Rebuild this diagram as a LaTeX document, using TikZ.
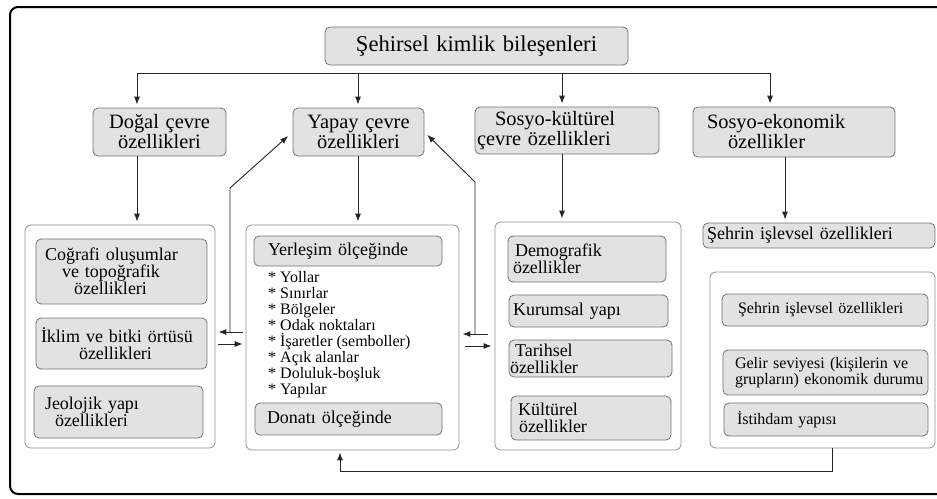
\documentclass[tikz,border=0pt]{standalone}
\usepackage{fontspec}
\setmainfont{Liberation Serif}
\usetikzlibrary{arrows.meta}

\definecolor{boxfill}{RGB}{226,226,226}
\definecolor{boxline}{RGB}{115,115,115}
\definecolor{cntline}{RGB}{145,145,145}
\newcommand{\ind}[1]{\hspace*{#1pt}}

\begin{document}
\begin{tikzpicture}[
    x=1pt, y=-1pt,
    gbox/.style={rectangle, rounded corners=5pt, draw=boxline, fill=boxfill, line width=0.8pt, inner xsep=0pt, inner ysep=2pt},
    dims/.style 2 args={minimum width=#1pt, text width=#1pt, minimum height=#2pt},
    cnt/.style={rectangle, rounded corners=6pt, draw=cntline, fill=white, line width=0.8pt},
    topbox/.style={gbox, align=center, font=\fontsize{22.6}{23}\selectfont},
    mainbox/.style={gbox, font=\fontsize{20.4}{20}\selectfont},
    subbox/.style={gbox, align=left, font=\fontsize{18}{17}\selectfont},
    smallbox/.style={gbox, align=left, font=\fontsize{16}{16}\selectfont},
    listtext/.style={align=left, inner sep=0pt, font=\fontsize{16}{16}\selectfont},
    bus/.style={line width=0.9pt, draw=black!85},
    link/.style={bus, -{Latex[length=8pt,width=6pt]}, shorten >=3pt}
]

\clip (0,0) rectangle (937,498);
\draw[line width=2pt, rounded corners=8pt] (10,7) rectangle (950,494);

\node[topbox, dims={303}{38}] (title) at (476.5,46) {Şehirsel kimlik bileşenleri};

\node[mainbox, dims={133}{48}, align=center] (dogal) at (159.5,132) {Doğal çevre\\özellikleri};
\node[mainbox, dims={131}{48}, align=center] (yapay) at (358.5,132) {Yapay çevre\\özellikleri};
\node[mainbox, dims={184}{47}, align=left] (sosyokul) at (567,130.5) {\ind{20}Sosyo-kültürel\\\ind{2}çevre özellikleri};
\node[mainbox, dims={202}{50}, align=left] (sosyoeko) at (794,132) {\ind{14}Sosyo-ekonomik\\\ind{35}özellikler};

\node[cnt, minimum width=190pt, minimum height=223pt] (dogalc) at (120,336.5) {};
\node[cnt, minimum width=213pt, minimum height=225pt] (yapayc) at (352.5,337.5) {};
\node[cnt, minimum width=186pt, minimum height=228pt] (sosyoc) at (588,336) {};
\node[cnt, minimum width=225pt, minimum height=176pt] (ekoc) at (822.5,360) {};

\node[subbox, dims={171}{65}] (cografi) at (121.5,271.5) {\ind{9}Coğrafi oluşumlar\\\ind{26}ve topoğrafik\\\ind{38}özellikleri};
\node[subbox, dims={171}{51}] (iklim) at (121.5,343.5) {\ind{5}İklim ve bitki örtüsü\\\ind{43}özellikleri};
\node[subbox, dims={169}{52}] (jeoloji) at (118.5,412) {\ind{11}Jeolojik yapı\\\ind{21}özellikleri};

\node[subbox, dims={188}{30}] (yerlesim) at (348,251) {\ind{14}Yerleşim ölçeğinde};
\node[listtext, anchor=west] (liste) at (268,335) {* Yollar\\* Sınırlar\\* Bölgeler\\* Odak noktaları\\* İşaretler (semboller)\\* Açık alanlar\\* Doluluk-boşluk\\* Yapılar};
\node[subbox, dims={187}{32}] (donati) at (348.5,419) {\ind{12}Donatı ölçeğinde};

\node[subbox, dims={158}{46}] (demog) at (587,259) {\ind{7}Demografik\\\ind{5}özellikler};
\node[subbox, dims={159}{32}] (kurum) at (588.5,311) {\ind{4}Kurumsal yapı};
\node[subbox, dims={163}{37}] (tarih) at (590.5,358.5) {\ind{6}Tarihsel\\\ind{1}özellikler};
\node[subbox, dims={160}{44}] (kultur) at (591,418) {\ind{7}Kültürel\\\ind{8}özellikler};

\node[subbox, dims={232}{25}] (islev) at (819,235.5) {\ind{4}Şehrin işlevsel özellikleri};
\node[smallbox, dims={206}{32}] (islev2) at (825,310) {\ind{16}Şehrin işlevsel özellikleri};
\node[smallbox, dims={205}{45}] (gelir) at (825.5,372.5) {\ind{12}Gelir seviyesi (kişilerin ve\\\ind{12}grupların) ekonomik durumu};
\node[smallbox, dims={204}{33}] (istihdam) at (826,419.5) {\ind{13}İstihdam yapısı};

\coordinate (b1) at (137,73);
\coordinate (b2) at (358,73);
\coordinate (b3) at (562,73);
\coordinate (b4) at (770,73);
\coordinate (d4) at (785,73);
\draw[bus] (b1) -- (b4);
\foreach \b/\n in {b1/dogal, b2/yapay, b3/sosyokul, b4/sosyoeko}
    \draw[link] (\b) -- (\b |- \n.north);

\draw[link] (b1 |- dogal.south) -- (b1 |- dogalc.north);
\draw[link] (b2 |- yapay.south) -- (b2 |- yapayc.north);
\draw[link] (b3 |- sosyokul.south) -- (b3 |- sosyoc.north);
\draw[link] (d4 |- sosyoeko.south) -- (d4 |- islev.north);

\coordinate (lu) at (243,332);
\coordinate (ld) at (218,344);
\coordinate (lj) at (230,332);
\coordinate (ls) at (230,188);
\draw[link] (lu) -- (dogalc.east |- lu);
\draw[link] (ld) -- (yapayc.west |- ld);
\draw[link, shorten >=6pt] (lj) -- (ls) -- (yapay.west);

\coordinate (ru) at (488,334);
\coordinate (rd) at (465,346);
\coordinate (rj) at (475,334);
\coordinate (rs) at (475,182);
\draw[link] (ru) -- (yapayc.east |- ru);
\draw[link] (rd) -- (sosyoc.west |- rd);
\draw[link, shorten >=4pt] (rj) -- (rs) -- (yapay.east);

\coordinate (fb) at (832,471);
\coordinate (fa) at (340,471);
\draw[link, shorten >=2pt] (fb |- ekoc.south) -- (fb) -- (fa) -- (fa |- yapayc.south);

\end{tikzpicture}
\end{document}
